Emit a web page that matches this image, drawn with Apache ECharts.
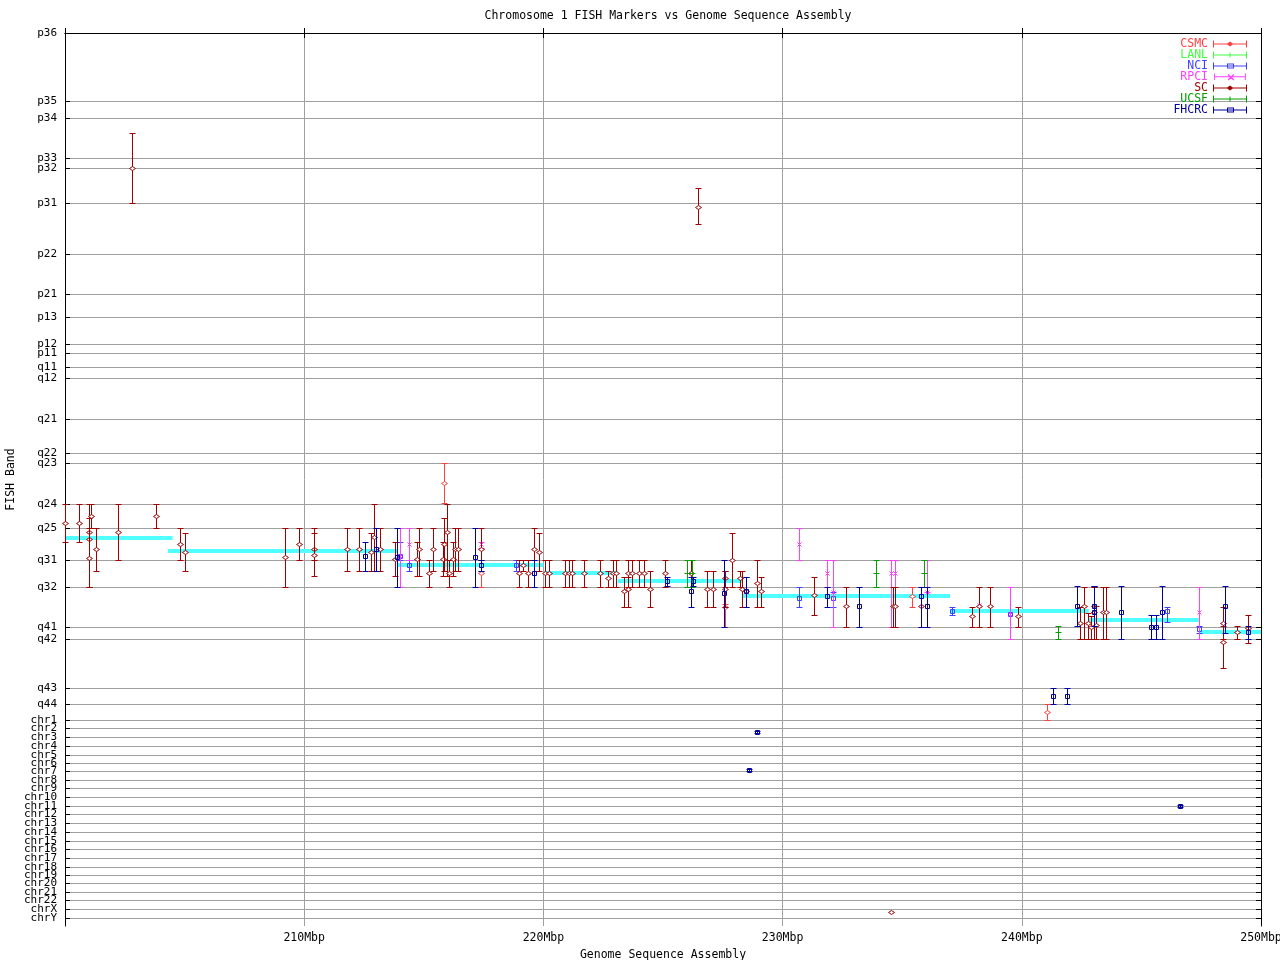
<!DOCTYPE html>
<html>
<head>
<meta charset="utf-8">
<script src="https://cdn.jsdelivr.net/npm/echarts@6/dist/echarts.min.js"></script>
<style>html,body{margin:0;padding:0;background:#fff;}#chart{width:1280px;height:960px;}</style>
</head>
<body>
<div id="chart"></div>
<script>
// ---- Y axis bands (band position units, top of p36 = 0) ----
const bandNames = ['p36','p35','p34','p33','p32','p31','p22','p21','p13','p12','p11','q11','q12','q21','q22','q23','q24','q25','q31','q32','q41','q42','q43','q44',
  'chr1','chr2','chr3','chr4','chr5','chr6','chr7','chr8','chr9','chr10','chr11','chr12','chr13','chr14','chr15','chr16','chr17','chr18','chr19','chr20','chr21','chr22','chrX','chrY'];
const bandValues = [0,68,85.5,125,135,170,221,261,284,311,320,334,345,386,420,430,471,495,527,554,594,606,655,671,
  687,695,704,713,722,730,738,747,755,764,773,781,790,799,808,816,825,834,842,850,859,867,876,885];
const yMax = 893;

// ---- X axis ticks (Mbp) ----
const xTicks = [200, 210, 220, 230, 240, 250];

// ---- Assembly band segments: [startMbp, endMbp, band position] ----
const assemblyBands = [
  [200.0, 204.5, 505],
  [204.3, 213.9, 518],
  [213.9, 220.0, 532],
  [220.0, 223.1, 540],
  [223.1, 228.3, 548],
  [228.3, 237.0, 563],
  [237.0, 242.8, 578],
  [242.8, 247.4, 587],
  [247.4, 250.0, 599]
];

// ---- FISH markers: [Mbp, band position, range top, range bottom] ----
const csmc = [
  [215.85, 450, 430, 470],
  [217.4, 540, 538, 554],
  [227.6, 574, 571, 594],
  [235.4, 563, 554, 574],
  [241.05, 679, 671, 687]
];
const lanl = [];
const nci = [
  [214.0, 523, 509, 527],
  [214.4, 532, 527, 538],
  [218.85, 532, 527, 538],
  [230.7, 565, 554, 574],
  [232.1, 565, 559, 574],
  [237.1, 578, 574, 582],
  [239.5, 581, 581, 581],
  [246.05, 578, 574, 589],
  [247.4, 596, 593, 600]
];
const rpci = [
  [214.0, 523, 495, 554],
  [214.4, 511, 495, 527],
  [217.4, 511, 509, 515],
  [230.7, 511, 495, 527],
  [231.85, 540, 527, 554],
  [232.1, 559, 527, 594],
  [234.55, 540, 527, 594],
  [234.7, 540, 527, 594],
  [236.05, 559, 527, 559],
  [238.2, 572, 572, 572],
  [239.5, 581, 554, 606],
  [247.4, 579, 554, 606]
];
const sc = [
  [200.0, 490, 471, 509], [200.6, 490, 471, 509], [201.0, 499, 471, 554], [201.0, 506, 485, 554],
  [201.0, 525, 495, 554], [201.1, 483, 471, 495], [201.3, 516, 495, 538], [202.2, 499, 471, 527],
  [202.8, 135, 100, 170], [203.8, 483, 471, 495], [204.8, 511, 495, 527], [205.0, 519, 500, 538],
  [209.2, 524, 495, 554], [209.8, 511, 495, 527], [210.4, 516, 495, 527], [210.4, 522, 500, 543],
  [211.8, 516, 495, 538], [212.3, 516, 495, 538], [212.8, 519, 500, 538], [212.9, 504, 471, 538],
  [213.15, 516, 495, 538], [213.8, 526, 509, 543], [214.7, 526, 509, 543], [214.8, 516, 495, 543],
  [215.2, 540, 527, 554], [215.4, 516, 495, 538], [215.8, 526, 509, 543], [215.85, 511, 485, 538],
  [215.95, 499, 471, 543], [216.05, 540, 527, 554], [216.2, 526, 509, 543], [216.3, 516, 495, 538],
  [216.45, 516, 495, 538], [217.4, 516, 495, 527], [219.0, 540, 527, 554], [219.15, 532, 527, 538],
  [219.35, 540, 527, 554], [219.6, 516, 495, 527], [219.8, 519, 500, 538], [220.05, 540, 527, 554],
  [220.25, 540, 527, 554], [220.9, 540, 527, 554], [221.05, 540, 527, 554], [221.2, 540, 527, 554],
  [221.7, 540, 527, 554], [222.35, 540, 527, 554], [222.7, 545, 538, 554], [222.9, 540, 527, 554],
  [223.05, 540, 527, 554], [223.35, 558, 544, 574], [223.55, 540, 527, 554], [223.55, 556, 544, 574],
  [223.7, 540, 527, 554], [224.0, 540, 527, 554], [224.2, 540, 527, 554], [224.45, 556, 538, 574],
  [225.1, 540, 527, 554], [226.15, 540, 527, 554], [226.45, 174, 155, 191], [226.85, 556, 538, 574],
  [227.1, 556, 538, 574], [227.6, 545, 538, 554], [227.6, 556, 538, 574], [227.9, 527, 500, 554],
  [228.2, 545, 538, 554], [228.3, 556, 538, 574], [228.45, 558, 544, 574], [228.95, 550, 527, 574],
  [229.1, 558, 544, 574], [231.3, 562, 544, 582], [232.65, 573, 554, 594], [234.55, 879, 879, 879],
  [234.6, 573, 554, 594], [234.7, 573, 554, 594], [235.8, 573, 554, 594], [237.9, 583, 574, 594],
  [238.2, 573, 554, 594], [238.65, 573, 554, 594], [239.85, 583, 574, 594], [242.45, 590, 574, 606],
  [242.6, 573, 554, 606], [242.75, 590, 580, 606], [242.9, 594, 583, 606], [243.0, 573, 554, 606],
  [243.0, 579, 554, 606], [243.1, 592, 573, 606], [243.4, 579, 554, 606], [243.5, 579, 554, 606],
  [248.4, 590, 574, 606], [248.4, 609, 593, 635], [249.0, 599, 593, 606], [249.45, 595, 582, 610]
];
const ucsf = [
  [226.0, 540, 527, 554],
  [226.2, 540, 527, 554],
  [233.9, 540, 527, 554],
  [235.9, 540, 527, 554],
  [241.5, 599, 593, 606]
];
const fhcrc = [
  [212.55, 523, 509, 538], [213.0, 516, 495, 538], [213.9, 524, 495, 554], [217.15, 524, 495, 554],
  [217.4, 532, 527, 538], [219.6, 540, 527, 554], [225.15, 548, 544, 553], [226.15, 558, 544, 574],
  [226.25, 548, 544, 553], [227.55, 560, 527, 594], [228.45, 558, 544, 574], [228.95, 699, 698, 700],
  [228.6, 737, 736, 738], [231.85, 563, 554, 574], [233.2, 573, 554, 594], [235.8, 563, 554, 594],
  [236.05, 573, 554, 594], [241.3, 663, 655, 671], [241.9, 663, 655, 671], [242.3, 573, 553, 593],
  [243.0, 573, 553, 593], [243.0, 579, 553, 593], [244.15, 579, 553, 606], [245.4, 594, 582, 606],
  [245.6, 594, 582, 606], [245.85, 579, 553, 606], [246.6, 773, 772, 774], [248.5, 573, 553, 600],
  [249.45, 599, 593, 606]
];

const FONT = 'DejaVu Sans Mono';

// label order: first and last pairs kept apart so no edge label is dropped
const labelValues = [bandValues[0]].concat(bandValues.slice(24), bandValues.slice(1, 24));

function errRender(shape) {
  return function (params, api) {
    const x = api.value(0);
    const c = api.coord([x, api.value(1)]);
    const lo = api.coord([x, api.value(2)]);
    const hi = api.coord([x, api.value(3)]);
    const color = api.visual('color');
    const px = Math.round(c[0]) + 0.5;
    const cy = Math.round(c[1]) + 0.5;
    const y0 = Math.round(lo[1]) + 0.5, y1 = Math.round(hi[1]) + 0.5;
    const st = { stroke: color, lineWidth: 1, fill: null };
    const ch = [];
    if (Math.abs(y1 - y0) >= 1) {
      ch.push({ type: 'line', shape: { x1: px, y1: y0, x2: px, y2: y1 }, style: st });
      ch.push({ type: 'line', shape: { x1: px - 3, y1: y0, x2: px + 3, y2: y0 }, style: st });
      ch.push({ type: 'line', shape: { x1: px - 3, y1: y1, x2: px + 3, y2: y1 }, style: st });
    }
    if (shape === 'diamond') {
      ch.push({ type: 'polygon', shape: { points: [[px - 3, cy], [px, cy - 2], [px + 3, cy], [px, cy + 2]] }, style: { stroke: color, lineWidth: 1, fill: '#fff' } });
    } else if (shape === 'square') {
      ch.push({ type: 'rect', shape: { x: px - 2, y: cy - 2, width: 4, height: 4 }, style: { stroke: color, lineWidth: 1, fill: null } });
    } else if (shape === 'cross') {
      ch.push({ type: 'line', shape: { x1: px - 2, y1: cy - 2, x2: px + 2, y2: cy + 2 }, style: st });
      ch.push({ type: 'line', shape: { x1: px - 2, y1: cy + 2, x2: px + 2, y2: cy - 2 }, style: st });
    } else if (shape === 'plus') {
      ch.push({ type: 'line', shape: { x1: px - 3, y1: cy, x2: px + 3, y2: cy }, style: st });
      ch.push({ type: 'line', shape: { x1: px, y1: cy - 3, x2: px, y2: cy + 3 }, style: st });
    }
    return { type: 'group', children: ch };
  };
}

const bandRender = function (params, api) {
  const a = api.coord([api.value(0), api.value(2)]);
  const b = api.coord([api.value(1), api.value(2)]);
  return { type: 'rect', shape: { x: a[0], y: Math.round(a[1]) - 2, width: b[0] - a[0], height: 4 }, style: { fill: '#50ffff' } };
};

const defs = [
  { name: 'CSMC', data: csmc, color: '#ff4040', shape: 'diamond' },
  { name: 'LANL', data: lanl, color: '#40ff40', shape: 'plus' },
  { name: 'NCI', data: nci, color: '#4040ff', shape: 'square' },
  { name: 'RPCI', data: rpci, color: '#ff40ff', shape: 'cross' },
  { name: 'SC', data: sc, color: '#a00000', shape: 'diamond' },
  { name: 'UCSF', data: ucsf, color: '#00a000', shape: 'plus' },
  { name: 'FHCRC', data: fhcrc, color: '#0000a0', shape: 'square' }
];

const base = 'M0,0h1v7h-1z M0,3h34v1h-34z M33,0h1v7h-1z';
const iconMark = {
  diamond: ' M17,1L20.5,3.5L17,6L13.5,3.5z',
  square: ' M14,1h7v5h-7z M15,2v3h5v-3z',
  cross: ' M14.5,1.5l1,-1l6,6l-1,1z M14.5,6.5l6,-6l1,1l-6,6z',
  plus: ' M16.5,1h1v5h-1z'
};

const series = [{
  type: 'custom', name: 'assembly', renderItem: bandRender, data: assemblyBands,
  encode: { x: [0, 1], y: 2 }, silent: true, z: 1
}];
defs.forEach(function (d) {
  series.push({
    type: 'custom', name: d.name, renderItem: errRender(d.shape), data: d.data,
    encode: { x: 0, y: 1 }, itemStyle: { color: d.color }, z: 3
  });
});

const chart = echarts.init(document.getElementById('chart'));
chart.setOption({
  animation: false,
  backgroundColor: '#fff',
  textStyle: { fontFamily: FONT },
  title: {
    text: 'Chromosome 1 FISH Markers vs Genome Sequence Assembly',
    left: 663, top: 5, textAlign: 'center',
    textStyle: { fontFamily: FONT, fontSize: 11.5, fontWeight: 'normal', color: '#000' }
  },
  legend: {
    orient: 'vertical', right: 33, top: 38, align: 'right', padding: 0,
    itemWidth: 34, itemHeight: 7, itemGap: -1,
    selectedMode: false,
    textStyle: { fontFamily: FONT, fontSize: 11.5, lineHeight: 10, padding: 0 },
    data: defs.map(function (d) {
      return { name: d.name, icon: 'path://' + base + iconMark[d.shape], textStyle: { color: d.color } };
    })
  },
  grid: { left: 65, right: 19, top: 33, bottom: 34, containLabel: false, outerBoundsMode: 'none' },
  xAxis: [{
    type: 'value', min: xTicks[0], max: xTicks[xTicks.length - 1], interval: 10,
    name: 'Genome Sequence Assembly', nameLocation: 'middle', nameGap: 22,
    nameTextStyle: { fontFamily: FONT, fontSize: 11.5, color: '#000' },
    axisLine: { show: true, lineStyle: { color: '#000', width: 1 } },
    axisTick: { show: true, inside: true, length: 5, lineStyle: { color: '#000' } },
    axisLabel: {
      margin: 6, fontFamily: FONT, fontSize: 11.5, color: '#000',
      formatter: function (v) { return v === xTicks[0] ? '' : v + 'Mbp'; }
    },
    splitLine: { show: true, lineStyle: { color: '#a0a0a0', width: 1 } }
  }, {
    type: 'value', position: 'top', min: xTicks[0], max: xTicks[xTicks.length - 1], interval: 10,
    axisLine: { show: true, lineStyle: { color: '#000', width: 1 } },
    axisTick: { show: true, inside: true, length: 5, lineStyle: { color: '#000' } },
    axisLabel: { show: false }, splitLine: { show: false }
  }],
  yAxis: [{
    type: 'value', inverse: true, min: 0, max: yMax,
    name: 'FISH Band', nameLocation: 'middle', nameGap: 48, nameMoveOverlap: false,
    nameTextStyle: { fontFamily: FONT, fontSize: 11.5, color: '#000' },
    axisLine: { show: true, lineStyle: { color: '#000', width: 1 } },
    axisTick: { show: true, inside: true, length: 5, customValues: bandValues, lineStyle: { color: '#000' } },
    axisLabel: {
      customValues: labelValues, margin: 8, fontFamily: FONT, fontSize: 11, color: '#000', hideOverlap: false,
      showMinLabel: true, showMaxLabel: true,
      formatter: function (v) { const i = bandValues.indexOf(v); return i >= 0 ? bandNames[i] : ''; }
    },
    splitLine: { show: true, lineStyle: { color: '#a0a0a0', width: 1 } }
  }, {
    type: 'value', inverse: true, min: 0, max: yMax, position: 'right',
    axisLine: { show: true, lineStyle: { color: '#000', width: 1 } },
    axisTick: { show: true, inside: true, length: 5, customValues: bandValues, lineStyle: { color: '#000' } },
    axisLabel: { show: false }, splitLine: { show: false }
  }],
  series: series
});
</script>
</body>
</html>
